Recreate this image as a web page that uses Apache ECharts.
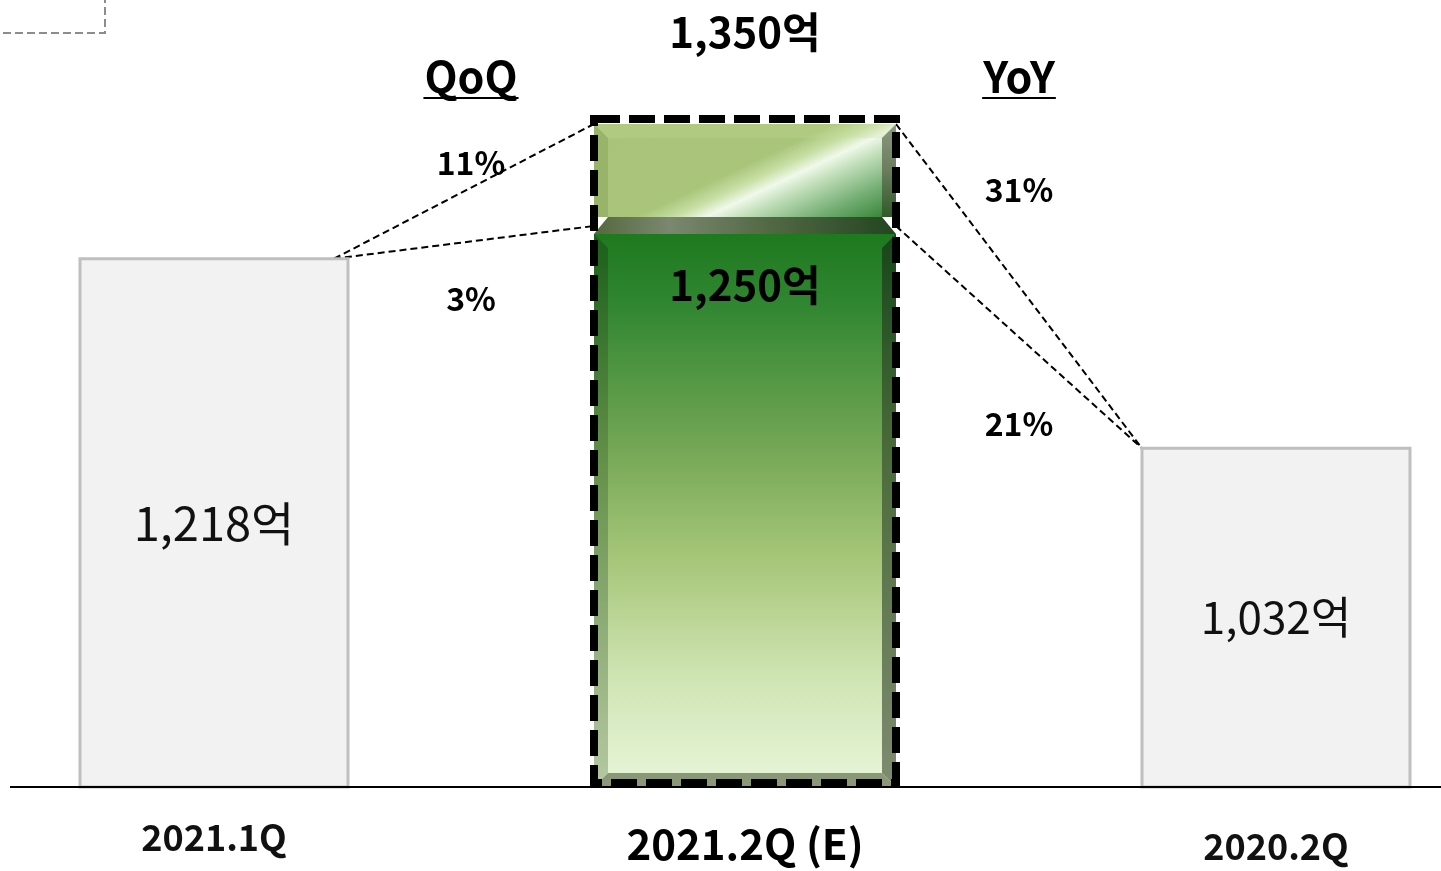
<!DOCTYPE html>
<html>
<head>
<meta charset="utf-8">
<script src="https://cdn.jsdelivr.net/npm/echarts@6/dist/echarts.min.js"></script>
<style>
  html, body { margin: 0; padding: 0; background: #ffffff; }
  #chart { width: 1441px; height: 871px; }
</style>
</head>
<body>
<div id="chart"></div>
<script>
// ---- data ----
const categories = ['2021.1Q', '2021.2Q (E)', '2020.2Q'];
const prevQuarter = 1218;   // 2021.1Q 실적
const targetLow = 1250;     // 2021.2Q (E) 하단 추정
const targetHigh = 1350;    // 2021.2Q (E) 상단 추정
const prevYear = 1032;      // 2020.2Q 실적
const compareTitles = ['QoQ', 'YoY'];
const unit = '억';

// ---- layout / style constants ----
const Y_MIN = 700;
const Y_MAX = 1400;
const FONT = '"Noto Sans CJK KR", "Noto Sans", sans-serif';
const GRAY_W = 268;
const GREEN_W = 302;
const BEVEL = 14;
const barWidthOf = i => (i === 1 ? GREEN_W : GRAY_W);
const PCT_DY = [-28, 57, -96, 87];

const fmt = v => v.toLocaleString('en-US');

// width of a bold title, used for its underline
const measureCtx = document.createElement('canvas').getContext('2d');
function textWidth(text, size) {
  measureCtx.font = 'bold ' + size + 'px ' + FONT;
  return measureCtx.measureText(text).width;
}

const chart = echarts.init(document.getElementById('chart'), null, { renderer: 'canvas' });

// plain comparison bars (2021.1Q, 2020.2Q)
function renderGray(params, api) {
  const i = api.value(0);
  const v = api.value(1);
  const top = api.coord([i, v]);
  const base = api.coord([i, Y_MIN]);
  const w = GRAY_W;
  return {
    type: 'group',
    children: [
      {
        type: 'rect',
        shape: { x: top[0] - w / 2, y: top[1], width: w, height: base[1] - top[1] },
        style: { fill: '#f2f2f2', stroke: '#bfbfbf', lineWidth: 3 }
      },
      {
        type: 'text',
        style: {
          text: fmt(v) + unit,
          x: top[0], y: (top[1] + base[1]) / 2,
          align: 'center', verticalAlign: 'middle',
          fill: '#111', fontFamily: FONT, fontSize: i === 0 ? 47 : 44, fontWeight: 'normal'
        }
      }
    ]
  };
}

// estimated quarter: low estimate body + upper range, bevelled
function renderTarget(params, api) {
  const i = api.value(0);
  const lo = api.value(1);
  const hi = api.value(2);
  const cx = api.coord([i, lo])[0];
  const yLow = api.coord([i, lo])[1];
  const yHigh = api.coord([i, hi])[1];
  const yBase = api.coord([i, Y_MIN])[1];
  const x0 = cx - GREEN_W / 2;
  const x1 = cx + GREEN_W / 2;
  const b = BEVEL;
  const bandTop = yLow - 9;
  const bandBot = yLow + 8;
  const G = echarts.graphic.LinearGradient;

  // diagonal sheen across the upper range (pixel-space gradient)
  const ux = 0.425, uy = 0.904;
  const len = GREEN_W * ux + (bandTop - yHigh) * uy;
  const sheen = new G(x0, yHigh, x0 + ux * len, yHigh + uy * len, [
    { offset: 0, color: '#a9c47a' },
    { offset: 0.48, color: '#a9c57a' },
    { offset: 0.56, color: '#c8e0a6' },
    { offset: 0.62, color: '#f0f9ea' },
    { offset: 0.69, color: '#c4e0bc' },
    { offset: 0.84, color: '#74ae74' },
    { offset: 1, color: '#2e7f2e' }
  ], true);

  return {
    type: 'group',
    children: [
      // upper range
      {
        type: 'rect',
        shape: { x: x0, y: yHigh, width: GREEN_W, height: bandTop - yHigh },
        style: { fill: sheen }
      },
      { // left bevel
        type: 'polygon',
        shape: { points: [[x0, yHigh], [x0 + b, yHigh + b], [x0 + b, bandTop], [x0, bandTop]] },
        style: { fill: 'rgba(90,120,50,0.22)' }
      },
      { // top bevel
        type: 'polygon',
        shape: { points: [[x0, yHigh], [x1, yHigh], [x1 - b, yHigh + b], [x0 + b, yHigh + b]] },
        style: { fill: 'rgba(200,220,150,0.25)' }
      },
      { // right bevel
        type: 'polygon',
        shape: { points: [[x1, yHigh], [x1, bandTop], [x1 - b, bandTop], [x1 - b, yHigh + b]] },
        style: {
          fill: new G(0, 0, 0, 1, [
            { offset: 0, color: '#8c9a80' },
            { offset: 0.5, color: '#6a7d5c' },
            { offset: 1, color: '#2f5a28' }
          ])
        }
      },
      { // divider band
        type: 'polygon',
        shape: { points: [[x0 + b, bandTop], [x1 - b, bandTop], [x1, bandBot], [x0, bandBot]] },
        style: {
          fill: new G(0, 0, 1, 0, [
            { offset: 0, color: '#55683f' },
            { offset: 0.25, color: '#7b8770' },
            { offset: 0.55, color: '#566b48' },
            { offset: 1, color: '#22451f' }
          ])
        }
      },
      // low estimate body
      {
        type: 'rect',
        shape: { x: x0, y: bandBot, width: GREEN_W, height: yBase - bandBot },
        style: {
          fill: new G(0, 0, 0, 1, [
            { offset: 0, color: '#1e7a1e' },
            { offset: 0.12, color: '#2f8530' },
            { offset: 0.38, color: '#72a654' },
            { offset: 0.58, color: '#a5c577' },
            { offset: 0.8, color: '#cfe4b3' },
            { offset: 1, color: '#e8f6d9' }
          ])
        }
      },
      { // left bevel
        type: 'polygon',
        shape: { points: [[x0, bandBot], [x0 + b, bandBot + b], [x0 + b, yBase - b], [x0, yBase]] },
        style: {
          fill: new G(0, 0, 0, 1, [
            { offset: 0, color: '#1a5f1a' },
            { offset: 0.4, color: '#628f48' },
            { offset: 1, color: '#b6c8a2' }
          ])
        }
      },
      { // right bevel
        type: 'polygon',
        shape: { points: [[x1, bandBot], [x1, yBase], [x1 - b, yBase - b], [x1 - b, bandBot + b]] },
        style: {
          fill: new G(0, 0, 0, 1, [
            { offset: 0, color: '#16461a' },
            { offset: 0.4, color: '#4b6c3a' },
            { offset: 1, color: '#7f8b70' }
          ])
        }
      },
      { // bottom bevel
        type: 'polygon',
        shape: { points: [[x0, yBase], [x0 + b, yBase - b], [x1 - b, yBase - b], [x1, yBase]] },
        style: { fill: '#8a9878' }
      },
      // dashed frame round the whole estimate
      {
        type: 'rect',
        shape: { x: x0, y: yHigh - 5, width: GREEN_W, height: yBase - yHigh + 1 },
        style: { fill: 'none', stroke: '#000', lineWidth: 8, lineDash: [26, 9] }
      },
      {
        type: 'text',
        style: {
          text: fmt(lo) + unit, x: cx, y: yLow + 59,
          align: 'center', verticalAlign: 'middle',
          fill: '#000', fontFamily: FONT, fontSize: 42, fontWeight: 'bold'
        }
      },
      {
        type: 'text',
        style: {
          text: fmt(hi) + unit, x: cx, y: yHigh - 92,
          align: 'center', verticalAlign: 'middle',
          fill: '#000', fontFamily: FONT, fontSize: 42, fontWeight: 'bold'
        }
      }
    ]
  };
}

// dashed connectors with growth rates
function renderLink(params, api) {
  const fi = api.value(0), fv = api.value(1), ti = api.value(2), tv = api.value(3);
  const from = api.coord([fi, fv]);
  const to = api.coord([ti, tv]);
  const fromEdge = from[0] + barWidthOf(fi) / 2;
  const toEdge = to[0] - barWidthOf(ti) / 2;
  const sx = fi === 0 ? fromEdge - 14 : fromEdge;
  const est = fi === 1 ? fv : tv;
  const ref = fi === 1 ? tv : fv;
  const pct = Math.round((est - ref) / ref * 100) + '%';
  const gapMid = (fromEdge + toEdge) / 2;
  const midY = (from[1] + to[1]) / 2;
  const children = [
    {
      type: 'line',
      shape: { x1: sx, y1: from[1], x2: toEdge, y2: to[1] },
      style: { stroke: '#000', lineWidth: 2, lineDash: [7, 4] }
    },
    {
      type: 'text',
      style: {
        text: pct, x: gapMid, y: midY + PCT_DY[params.dataIndex],
        align: 'center', verticalAlign: 'middle',
        fill: '#000', fontFamily: FONT, fontSize: 32, fontWeight: 'bold'
      }
    }
  ];
  if (params.dataIndex % 2 === 0) {
    const title = compareTitles[params.dataIndex / 2];
    const half = textWidth(title, 43) / 2 + 1;
    children.push(
      {
        type: 'text',
        style: {
          text: title, x: gapMid, y: 77,
          align: 'center', verticalAlign: 'middle',
          fill: '#000', fontFamily: FONT, fontSize: 43, fontWeight: 'bold'
        }
      },
      {
        type: 'line',
        shape: { x1: gapMid - half, y1: 98, x2: gapMid + half, y2: 98 },
        style: { stroke: '#000', lineWidth: 2 }
      }
    );
  }
  return { type: 'group', children };
}

const option = {
  animation: false,
  backgroundColor: '#ffffff',
  grid: { left: 214, right: 165, top: 73, bottom: 84 },
  xAxis: {
    type: 'category',
    data: categories,
    boundaryGap: false,
    axisLine: { show: false },
    axisTick: { show: false },
    splitLine: { show: false },
    axisLabel: {
      margin: 30,
      interval: 0,
      formatter: (v, idx) => (idx === 1 ? '{b|' + v + '}' : idx === 2 ? '{c|' + v + '}' : '{a|' + v + '}'),
      rich: {
        a: { fontFamily: FONT, fontSize: 36, fontWeight: 'bold', color: '#111', lineHeight: 40 },
        b: { fontFamily: FONT, fontSize: 42, fontWeight: 'bold', color: '#000', lineHeight: 46, padding: [8, 0, 0, 0] },
        c: { fontFamily: FONT, fontSize: 36, fontWeight: 'bold', color: '#111', lineHeight: 40, padding: [18, 0, 0, 0] }
      }
    }
  },
  yAxis: { type: 'value', min: Y_MIN, max: Y_MAX, show: false, splitLine: { show: false } },
  graphic: [
    {
      type: 'line',
      shape: { x1: 10, y1: 787, x2: 1441, y2: 787 },
      style: { stroke: '#000', lineWidth: 2 },
      z: 100
    },
    {
      type: 'rect',
      shape: { x: -10, y: -10, width: 115, height: 43 },
      style: { fill: 'none', stroke: '#8c8c8c', lineWidth: 2, lineDash: [8, 4] }
    }
  ],
  series: [
    {
      type: 'custom',
      renderItem: renderLink,
      z: 1,
      data: [
        [0, prevQuarter, 1, targetHigh],
        [0, prevQuarter, 1, targetLow],
        [1, targetHigh, 2, prevYear],
        [1, targetLow, 2, prevYear]
      ]
    },
    {
      type: 'custom',
      renderItem: renderGray,
      z: 2,
      data: [[0, prevQuarter], [2, prevYear]]
    },
    {
      type: 'custom',
      renderItem: renderTarget,
      z: 3,
      data: [[1, targetLow, targetHigh]]
    }
  ]
};

chart.setOption(option);
</script>
</body>
</html>
